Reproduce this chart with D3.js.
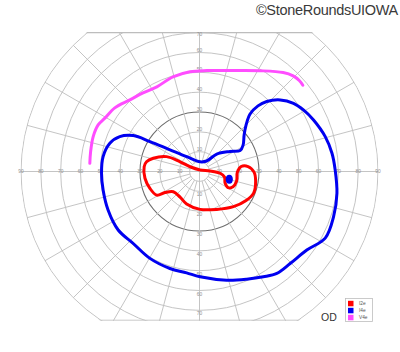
<!DOCTYPE html>
<html>
<head>
<meta charset="utf-8">
<script src="https://cdn.jsdelivr.net/npm/d3@7"></script>
<style>
  html, body { margin: 0; padding: 0; background: #fff; }
  svg { display: block; }
</style>
</head>
<body>
<svg id="field"></svg>
<script>
// Isopters in field degrees: [x (right +), y (up +)]
const isopterI2e = [
    [-26.7, 4.9], [-23.3, 6.7], [-16.6, 7.5], [-9.8, 4.9], [-4.8, 2.4], [0.3, 0.8],
    [5.3, 0.3], [10.4, -0.9], [12.6, -2.8], [12.9, -5.8], [14.4, -8.1], [16.9, -7.7],
    [18.7, -4.8], [19.1, -0.3], [21.0, 2.5], [24.5, 2.5], [27.5, -0.3], [28.3, -4.8],
    [27.3, -10.9], [23.5, -14.6], [17.1, -17.7], [8.7, -19.1], [0.3, -19.1], [-6.5, -16.4],
    [-9.8, -12.9], [-13.2, -10.2], [-17.4, -10.6], [-21.6, -11.9], [-25.0, -8.5],
    [-27.5, -3.4], [-27.9, 2.4]
];

const isopterI4e = [
    [-40.2, 17.6], [-33.4, 18.1], [-25.0, 15.1], [-16.6, 11.7], [-6.5, 7.5], [0.3, 4.9],
    [3.6, 5.3], [8.7, 8.8], [15.4, 10.1], [20.5, 10.6], [22.0, 13.4], [22.5, 18.4],
    [23.5, 23.5], [25.5, 29.0], [29.5, 33.1], [33.9, 35.3], [40.7, 36.1], [47.4, 34.4],
    [52.4, 31.1], [57.5, 26.0], [63.4, 17.6], [66.8, 9.2], [68.4, 0.8], [69.3, -11.0],
    [67.6, -22.8], [63.4, -33.6], [54.1, -39.6], [45.7, -46.4], [39.0, -51.4],
    [32.2, -53.1], [23.8, -54.3], [13.7, -54.8], [0.3, -53.1], [-6.5, -51.1],
    [-14.9, -48.9], [-25.0, -43.8], [-33.4, -36.3], [-41.0, -29.5], [-46.1, -19.4],
    [-48.6, -9.3], [-49.4, -0.9], [-48.6, 7.5], [-45.2, 14.2]
];

const isopterV4e = [
    [-55.3, 4.1], [-54.9, 10.0], [-53.6, 17.6], [-51.1, 23.5], [-47.7, 26.9],
    [-42.7, 32.1], [-35.1, 36.1], [-28.5, 39.6], [-21.5, 42.7], [-13.4, 47.7],
    [-4.8, 50.3], [3.8, 50.9], [16.9, 50.9], [30.6, 50.8], [42.2, 49.9],
    [47.2, 48.2], [50.3, 45.9], [52.1, 43.5]
];

// blind spot (I4e scotoma): centre and half size in degrees
const blindSpot = { x: 15.0, y: -3.9, rx: 1.8, ry: 2.3 };

const ringDegrees = [5, 10, 20, 30, 40, 50, 60, 70, 80, 90];
const meridians = d3.range(0, 360, 15);
const sideLabels = [10, 20, 30, 40, 50, 60, 70, 80, 90];
const vertLabels = [10, 20, 30, 40, 50, 60, 70];
const legendNames = ["I2e", "I4e", "V4e"];
const legendColors = ["#ff0000", "#0000f0", "#ff4dff"];

/*
 * Layout
 */
const width = 400, height = 352;
const cx = 199.5, cy = 171.5, R = 178.5;
const superiorLimit = 70, inferiorLimit = 75;

const svg = d3.select("#field")
    .attr("width", width)
    .attr("height", height)
    .style("font-family", "'Liberation Sans', Arial, sans-serif");

const x = d3.scaleLinear().domain([-90, 90]).range([cx - R, cx + R]);
const y = d3.scaleLinear().domain([90, -90]).range([cy - R, cy + R]);
const r = d3.scaleLinear().domain([0, 90]).range([0, R]);

const defs = svg.append("defs");
defs.append("clipPath").attr("id", "band")
    .append("rect")
    .attr("x", 0).attr("width", width)
    .attr("y", y(superiorLimit) - 0.6)
    .attr("height", y(-inferiorLimit) - y(superiorLimit) + 1.2);
defs.append("clipPath").attr("id", "disc")
    .append("circle")
    .attr("cx", cx).attr("cy", cy).attr("r", r(90) + 0.6);

const grid = svg.append("g").attr("clip-path", "url(#band)")
    .append("g").attr("clip-path", "url(#disc)");

// rings
grid.selectAll("circle.ring")
    .data(ringDegrees)
    .join("circle")
    .attr("class", "ring")
    .attr("cx", cx).attr("cy", cy)
    .attr("r", d => r(d))
    .attr("fill", "none")
    .attr("stroke", d => d === 30 ? "#6e6e6e" : "#bdbdbd")
    .attr("stroke-width", d => d === 30 ? 1.1 : 0.9);

// meridians, axes go through the centre
grid.selectAll("line.meridian")
    .data(meridians)
    .join("line")
    .attr("class", "meridian")
    .attr("x1", d => cx + r(d % 90 === 0 ? 0 : 5) * Math.cos(d * Math.PI / 180))
    .attr("y1", d => cy - r(d % 90 === 0 ? 0 : 5) * Math.sin(d * Math.PI / 180))
    .attr("x2", d => cx + r(90) * Math.cos(d * Math.PI / 180))
    .attr("y2", d => cy - r(90) * Math.sin(d * Math.PI / 180))
    .attr("stroke", "#bdbdbd")
    .attr("stroke-width", 0.9);

// top and bottom limits of the chart
grid.selectAll("line.limit")
    .data([superiorLimit, -inferiorLimit])
    .join("line")
    .attr("class", "limit")
    .attr("x1", 0).attr("x2", width)
    .attr("y1", d => y(d)).attr("y2", d => y(d))
    .attr("stroke", "#bdbdbd")
    .attr("stroke-width", 1.2);

// degree labels
const labelStyle = sel => sel
    .attr("text-anchor", "middle")
    .attr("font-size", 4.8)
    .attr("fill", "#909090");

svg.append("g").selectAll("text")
    .data(sideLabels.flatMap(d => [-d, d]))
    .join("text")
    .attr("x", d => x(d))
    .attr("y", cy + 1.7)
    .text(d => Math.abs(d))
    .call(labelStyle);

svg.append("g").selectAll("text")
    .data(vertLabels.flatMap(d => [d, -d]))
    .join("text")
    .attr("x", cx)
    .attr("y", d => d > 0 ? y(d) - 1 + (d === 70 ? 4 : 0) : y(d) + 5)
    .text(d => Math.abs(d))
    .call(labelStyle);

// isopters
const curveLine = d3.line()
    .x(d => x(d[0]))
    .y(d => y(d[1]));

const isopters = [
    { data: isopterI2e, color: legendColors[0], closed: true },
    { data: isopterI4e, color: legendColors[1], closed: true },
    { data: isopterV4e, color: legendColors[2], closed: false }
];

svg.append("g").selectAll("path")
    .data(isopters)
    .join("path")
    .attr("d", d => curveLine.curve(d.closed ? d3.curveCatmullRomClosed : d3.curveCatmullRom)(d.data))
    .attr("fill", "none")
    .attr("stroke", d => d.color)
    .attr("stroke-width", 3)
    .attr("stroke-linejoin", "round")
    .attr("stroke-linecap", "round");

svg.append("ellipse")
    .attr("cx", x(blindSpot.x)).attr("cy", y(blindSpot.y))
    .attr("rx", r(blindSpot.rx)).attr("ry", r(blindSpot.ry))
    .attr("fill", legendColors[1]);

// eye label
svg.append("text")
    .attr("x", 321).attr("y", 321)
    .attr("font-size", 10.5)
    .attr("fill", "#333")
    .text("OD");

// legend
const legend = svg.append("g").attr("transform", "translate(345.5,298.5)");
legend.append("rect")
    .attr("width", 27).attr("height", 23)
    .attr("fill", "#fff")
    .attr("stroke", "#bdbdbd")
    .attr("stroke-width", 0.8);
const rows = legend.selectAll("g")
    .data(legendNames)
    .join("g")
    .attr("transform", (d, i) => `translate(2.5, ${2.3 + i * 7})`);
rows.append("rect")
    .attr("width", 5.5).attr("height", 5.5)
    .attr("fill", (d, i) => legendColors[i]);
rows.append("text")
    .attr("x", 11).attr("y", 4.6)
    .attr("font-size", 4.8)
    .attr("fill", "#555")
    .text(d => d);

// credit
svg.append("text")
    .attr("x", 398).attr("y", 14.5)
    .attr("text-anchor", "end")
    .attr("font-size", 14.5)
    .attr("fill", "#3a3a3a")
    .attr("letter-spacing", -0.3)
    .text("©StoneRoundsUIOWA");
</script>
</body>
</html>
